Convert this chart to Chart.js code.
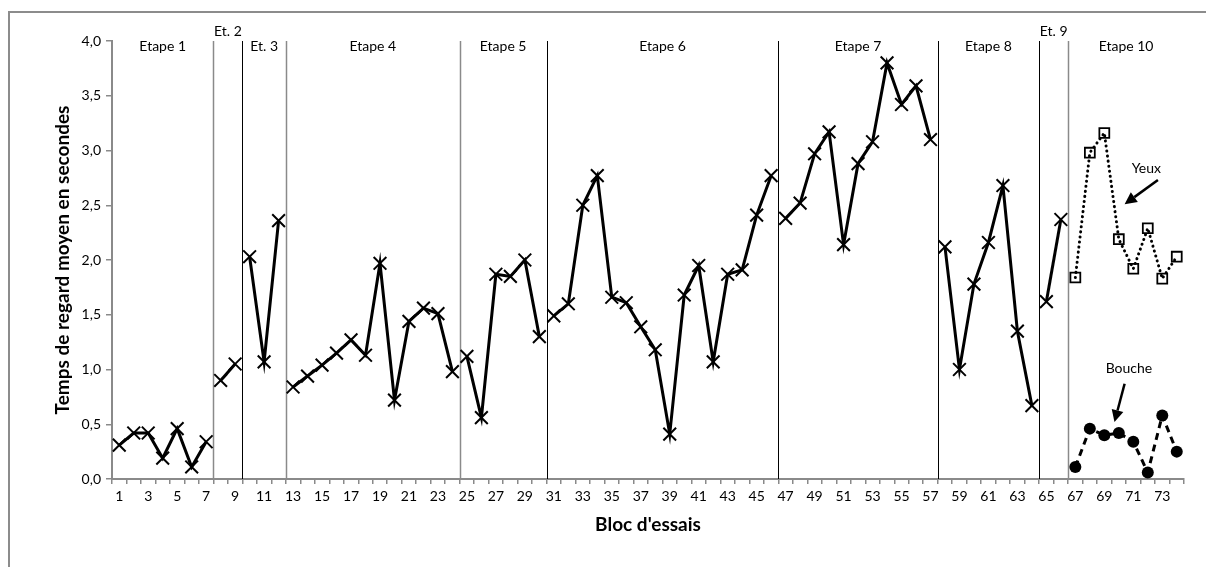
<!DOCTYPE html>
<html>
<head>
<meta charset="utf-8">
<script src="https://cdn.jsdelivr.net/npm/chart.js@4.4.1/dist/chart.umd.min.js"></script>
<style>
  html, body { margin: 0; padding: 0; background: #fff; }
  #wrap { position: relative; width: 1206px; height: 567px; }
  #frame { position: absolute; left: 8px; top: 11px; right: 0; bottom: 0;
           border-left: 2px solid #8c8c8c; border-top: 2px solid #8c8c8c; }
  canvas { position: absolute; left: 0; top: 0; }
</style>
</head>
<body>
<div id="wrap">
  <div id="frame"></div>
  <canvas id="chart" width="1206" height="567"></canvas>
</div>
<script>
// categories (bloc d'essais)
const blocs = ["1","2","3","4","5","6","7","8","9","10","11","12","13","14","15","16","17","18","19","20",
  "21","22","23","24","25","26","27","28","29","30","31","32","33","34","35","36","37","38","39","40",
  "41","42","43","44","45","46","47","48","49","50","51","52","53","54","55","56","57","58","59","60",
  "61","62","63","64","65","66","67","68","69","70","71","72","73","74"];

// Etapes 1 to 9 (blocs 1-66)
const tempsRegard = [
  0.31, 0.42, 0.42, 0.19, 0.46, 0.11, 0.34,
  0.90, 1.05,
  2.03, 1.07, 2.36,
  0.84, 0.94, 1.04, 1.15, 1.27, 1.13, 1.97, 0.72, 1.44, 1.56, 1.51, 0.98,
  1.12, 0.56, 1.87, 1.85, 2.00, 1.30,
  1.49, 1.60, 2.50, 2.77, 1.66, 1.61, 1.39, 1.18, 0.41, 1.68, 1.95, 1.07, 1.87, 1.91, 2.41, 2.77,
  2.38, 2.52, 2.97, 3.17, 2.14, 2.88, 3.08, 3.80, 3.42, 3.59, 3.10,
  2.12, 1.00, 1.78, 2.16, 2.68, 1.35, 0.67,
  1.62, 2.37
];
// Etape 10 (blocs 67-74)
const yeux = [1.84, 2.98, 3.16, 2.19, 1.92, 2.29, 1.83, 2.03];
const bouche = [0.11, 0.46, 0.40, 0.42, 0.34, 0.06, 0.58, 0.25];

const stageNames = ["Etape 1", "Et. 2", "Et. 3", "Etape 4", "Etape 5", "Etape 6", "Etape 7", "Etape 8", "Et. 9", "Etape 10"];
const stageStart = [1, 8, 10, 13, 25, 31, 47, 58, 65, 67];
const yTicks = [0, 0.5, 1, 1.5, 2, 2.5, 3, 3.5, 4];

const nEtape10 = blocs.length - tempsRegard.length;
const mainData = tempsRegard.concat(Array(nEtape10).fill(null));
const yeuxData = Array(tempsRegard.length).fill(null).concat(yeux);
const boucheData = Array(tempsRegard.length).fill(null).concat(bouche);

// separator line colours (between stages)
const sepColors = ["#8a8a8a", "#000", "#8a8a8a", "#8a8a8a", "#000", "#000", "#000", "#000", "#8a8a8a"];

const FONT = "Lato, 'Open Sans', sans-serif";

function arrow(ctx, x1, y1, x2, y2) {
  const ang = Math.atan2(y2 - y1, x2 - x1);
  const hl = 12, hw = 6;
  const bx = x2 - hl * Math.cos(ang), by = y2 - hl * Math.sin(ang);
  ctx.beginPath();
  ctx.moveTo(x1, y1);
  ctx.lineTo(bx, by);
  ctx.lineWidth = 2.5;
  ctx.strokeStyle = "#000";
  ctx.stroke();
  ctx.beginPath();
  ctx.moveTo(x2, y2);
  ctx.lineTo(bx + hw * Math.sin(ang), by - hw * Math.cos(ang));
  ctx.lineTo(bx - hw * Math.sin(ang), by + hw * Math.cos(ang));
  ctx.closePath();
  ctx.fillStyle = "#000";
  ctx.fill();
}

const overlay = {
  id: "overlay",
  beforeDatasetsDraw(chart) {
    const { ctx, chartArea: a, scales: { x } } = chart;
    ctx.save();
    stageStart.slice(1).forEach((s, i) => {
      const px = Math.round((x.getPixelForValue(s - 2) + x.getPixelForValue(s - 1)) / 2) + 0.5;
      ctx.strokeStyle = sepColors[i];
      ctx.lineWidth = sepColors[i] === "#000" ? 1 : 1.5;
      ctx.beginPath();
      ctx.moveTo(px, a.top);
      ctx.lineTo(px, a.bottom);
      ctx.stroke();
    });
    ctx.restore();
  },
  afterDatasetsDraw(chart) {
    const { ctx, chartArea: a, scales: { x, y } } = chart;
    ctx.save();
    // stage labels
    ctx.fillStyle = "#000";
    ctx.font = "14px " + FONT;
    ctx.textAlign = "center";
    ctx.textBaseline = "middle";
    stageNames.forEach((name, i) => {
      const left = i === 0 ? a.left : (x.getPixelForValue(stageStart[i] - 2) + x.getPixelForValue(stageStart[i] - 1)) / 2;
      const right = i === stageNames.length - 1 ? a.right
        : (x.getPixelForValue(stageStart[i + 1] - 2) + x.getPixelForValue(stageStart[i + 1] - 1)) / 2;
      const narrow = right - left < 40;
      ctx.fillText(name, (left + right) / 2, narrow ? a.top - 10 : a.top + 5);
    });
    // annotations
    ctx.font = "14px " + FONT;
    ctx.fillText("Yeux", x.getPixelForValue(70.9), y.getPixelForValue(2.84));
    arrow(ctx, x.getPixelForValue(71.7), y.getPixelForValue(2.73), x.getPixelForValue(69.4), y.getPixelForValue(2.51));
    ctx.fillText("Bouche", x.getPixelForValue(69.7), y.getPixelForValue(1.01));
    arrow(ctx, x.getPixelForValue(69.4), y.getPixelForValue(0.87), x.getPixelForValue(68.7), y.getPixelForValue(0.52));
    // axis titles
    ctx.font = "bold 19px " + FONT;
    ctx.fillText("Bloc d'essais", (a.left + a.right) / 2, 525);
    ctx.translate(63, (a.top + a.bottom) / 2);
    ctx.rotate(-Math.PI / 2);
    ctx.fillText("Temps de regard moyen en secondes", 0, 0);
    ctx.restore();
  }
};

const breaks = stageStart.slice(1).map(s => s - 1);

new Chart(document.getElementById("chart").getContext("2d"), {
  type: "line",
  data: {
    labels: blocs,
    datasets: [
      {
        label: "Temps de regard",
        data: mainData,
        borderColor: "#000",
        borderWidth: 3,
        pointStyle: "crossRot",
        pointRadius: 9,
        pointBorderWidth: 2,
        pointBorderColor: "#000",
        tension: 0,
        segment: {
          borderColor: c => breaks.includes(c.p1DataIndex) ? "rgba(0,0,0,0)" : undefined
        }
      },
      {
        label: "Yeux",
        data: yeuxData,
        borderColor: "#000",
        borderWidth: 3,
        borderDash: [0.1, 5],
        borderCapStyle: "round",
        pointStyle: "rect",
        pointRadius: 7,
        pointBorderWidth: 1.8,
        pointBorderColor: "#000",
        pointBackgroundColor: "rgba(255,255,255,0)",
        tension: 0
      },
      {
        label: "Bouche",
        data: boucheData,
        borderColor: "#000",
        borderWidth: 3,
        borderDash: [7, 5],
        pointStyle: "circle",
        pointRadius: 6,
        pointBorderWidth: 0,
        pointBackgroundColor: "#000",
        tension: 0
      }
    ]
  },
  options: {
    responsive: false,
    animation: false,
    events: [],
    layout: { padding: { left: 0, top: 41, right: 22, bottom: 0 } },
    plugins: {
      legend: { display: false },
      tooltip: { enabled: false }
    },
    scales: {
      x: {
        offset: true,
        grid: { offset: true, drawOnChartArea: false, drawTicks: true, tickLength: 5, color: "#8a8a8a", lineWidth: 1.5 },
        border: { display: true, color: "#8a8a8a", width: 2 },
        ticks: {
          autoSkip: false,
          maxRotation: 0,
          padding: 4,
          color: "#000",
          font: { family: FONT, size: 14 },
          callback: function (v, i) { return i % 2 === 0 ? blocs[i] : ""; }
        },
        afterFit: s => { s.height = 88; }
      },
      y: {
        min: 0,
        max: 4,
        grid: { drawOnChartArea: false, drawTicks: true, tickLength: 6, color: "#8a8a8a", lineWidth: 1.5 },
        border: { display: true, color: "#8a8a8a", width: 2 },
        afterBuildTicks: s => { s.ticks = yTicks.map(v => ({ value: v })); },
        ticks: {
          padding: 5,
          color: "#000",
          font: { family: FONT, size: 14 },
          callback: v => v.toFixed(1).replace(".", ",")
        },
        afterFit: s => { s.width = 112; }
      }
    }
  },
  plugins: [overlay]
});
</script>
</body>
</html>
